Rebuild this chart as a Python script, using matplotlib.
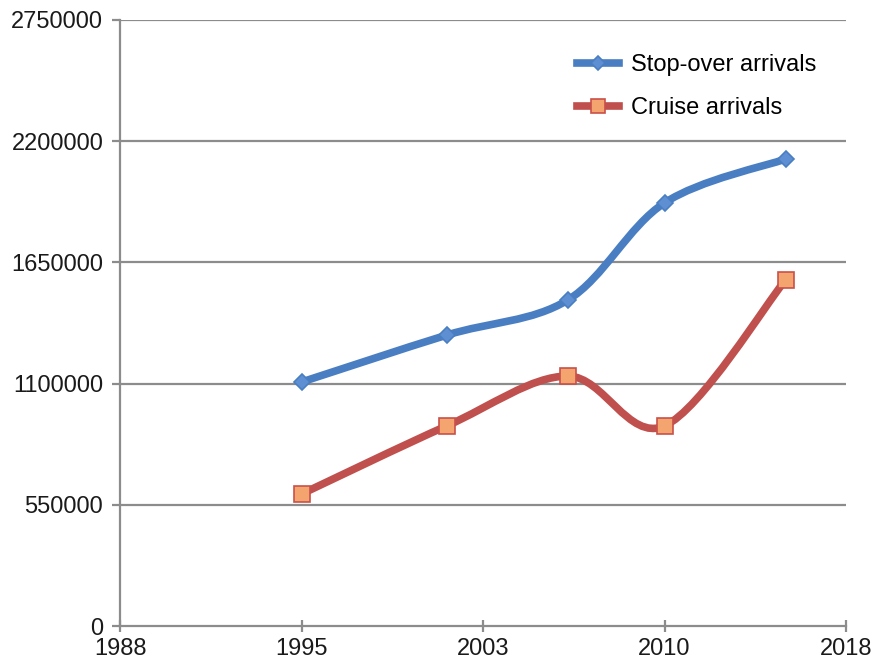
import matplotlib.pyplot as plt
from matplotlib.path import Path
from matplotlib.patches import PathPatch
from matplotlib.lines import Line2D

years = [1995.5, 2001.5, 2006.5, 2010.5, 2015.5]
stopover = [1107000, 1320000, 1479000, 1920000, 2119000]
cruise = [599000, 908000, 1134000, 908000, 1570000]
xtick_pos = [1988, 1995.5, 2003, 2010.5, 2018]
xtick_labels = ["1988", "1995", "2003", "2010", "2018"]
ytick_vals = [0, 550000, 1100000, 1650000, 2200000, 2750000]

plt.rcParams['font.family'] = ['Liberation Sans', 'DejaVu Sans']


def smooth_path(ax, xs, ys):
    # excel-like smoothing: catmull-rom as cubic bezier, built in display space
    pts = ax.transData.transform(list(zip(xs, ys)))
    n = len(pts)
    verts = [pts[0]]
    codes = [Path.MOVETO]
    for i in range(n - 1):
        p0 = pts[max(i - 1, 0)]
        p1 = pts[i]
        p2 = pts[i + 1]
        p3 = pts[min(i + 2, n - 1)]
        c1 = p1 + (p2 - p0) / 6.0
        c2 = p2 - (p3 - p1) / 6.0
        verts += [c1, c2, p2]
        codes += [Path.CURVE4] * 3
    return Path(verts, codes)


fig = plt.figure(figsize=(8.71, 6.65), dpi=100)
ax = fig.add_axes([0.1378, 0.0586, 0.9713 - 0.1378, 0.970 - 0.0586])
ax.set_xlim(1988, 2018)
ax.set_ylim(0, 2750000)

grid_col = '#8c8c8c'
for v in ytick_vals[1:]:
    ax.axhline(v, color=grid_col, lw=1.6, zorder=1)

for s in ['top', 'right']:
    ax.spines[s].set_visible(False)
for s in ['left', 'bottom']:
    ax.spines[s].set_color(grid_col)
    ax.spines[s].set_linewidth(1.6)

ax.set_xticks(xtick_pos)
ax.set_xticklabels(xtick_labels)
ax.set_yticks(ytick_vals)
ax.set_yticklabels([str(v) for v in ytick_vals])
ax.tick_params(axis='x', direction='inout', length=9, width=1.6,
               labelsize=17, pad=4, labelcolor='#1a1a1a')
ax.tick_params(axis='x', color=grid_col)
ax.tick_params(axis='y', direction='out', length=6, width=1.6,
               labelsize=17, pad=6, labelcolor='#1a1a1a')
ax.tick_params(axis='y', color=grid_col)

fig.canvas.draw()

series = [
    (stopover, '#4a7ec2', 'D', 8, '#5d8fd2', '#4a7ec2', 'Stop-over arrivals'),
    (cruise, '#c0504d', 's', 12, '#f4a46e', '#c9504a', 'Cruise arrivals'),
]
handles = []
for vals, col, mk, ms, mfc, mec, lab in series:
    path = smooth_path(ax, years, vals)
    patch = PathPatch(path, facecolor='none', edgecolor=col, lw=5.5,
                      transform=None, zorder=3, capstyle='round')
    ax.add_artist(patch)
    ax.plot(years, vals, linestyle='none', marker=mk, ms=ms, mfc=mfc, mec=mec,
            mew=1.2, zorder=4)
    handles.append(Line2D([], [], color=col, lw=5.5, marker=mk, ms=ms * 0.85,
                          mfc=mfc, mec=mec, mew=1.2, label=lab))

ax.legend(handles=handles, loc='upper left', bbox_to_anchor=(0.629, 0.944),
          frameon=False, handlelength=1.8, labelspacing=0.9,
          handletextpad=0.5, borderpad=0, borderaxespad=0,
          prop={'family': ['Liberation Sans', 'DejaVu Sans'], 'size': 17})

fig.savefig('out.png', dpi=100)
